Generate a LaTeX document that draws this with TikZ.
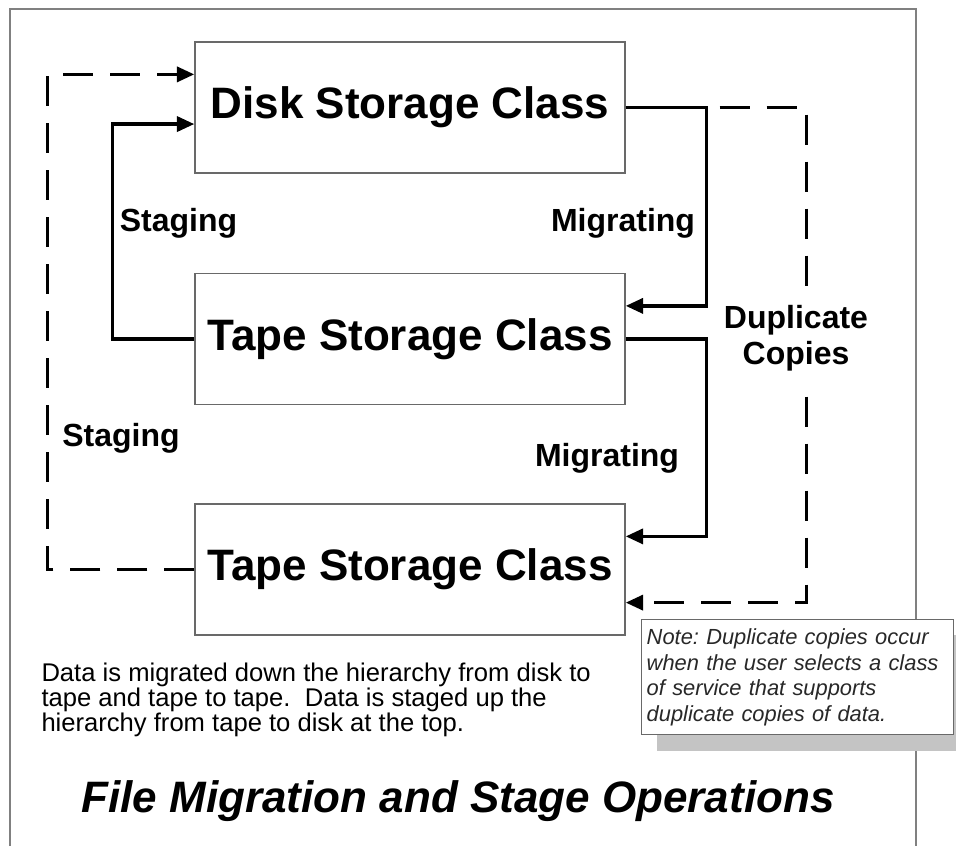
\documentclass[tikz,border=0pt]{standalone}
\usepackage{fontspec}
\setmainfont{Liberation Sans}
\usetikzlibrary{arrows.meta,calc}

\definecolor{framegray}{RGB}{128,128,128}
\definecolor{boxgray}{RGB}{105,105,105}
\definecolor{shadowgray}{RGB}{196,196,196}
\definecolor{notetext}{RGB}{40,40,40}

\tikzset{every picture/.style={line width=0.75pt}}

\begin{document}
\begin{tikzpicture}[x=0.75pt,y=0.75pt,yscale=-1,xscale=1,
  classbox/.style={draw=boxgray,line width=1.1pt,fill=white,minimum width=322.5pt,minimum height=98.25pt,inner sep=0pt,font=\fontsize{33}{38}\selectfont\bfseries},
  flow/.style={line width=2.6pt,-{Triangle[length=13pt,width=11.25pt]}},
  dupflow/.style={flow,dash pattern={on 22.5pt off 12.75pt}},
  oplabel/.style={inner sep=0pt,align=center,font=\fontsize{24}{27}\selectfont\bfseries}]
\useasboundingbox (0,0) rectangle (956,846);

%Frame
\draw [framegray,line width=1.5pt] (10,846) -- (10,9) -- (916,9) -- (916,846) ;

%Storage class boxes
\node [classbox] (disk) at (410,107.5) {Disk Storage Class};
\node [classbox] (tapeA) at (410,339) {Tape Storage Class};
\node [classbox] (tapeB) at (410,569.5) {Tape Storage Class};

%Migrating
\draw [flow] (disk.east) -- ++(81,0) |- ($(tapeA.north east)!0.25!(tapeA.south east)$) ;
\draw [flow] (tapeA.east) -- ++(81,0) |- ($(tapeB.north east)!0.25!(tapeB.south east)$) ;
%Duplicate copies
\draw [dupflow] (disk.east) -- ++(181,0) |- ($(tapeB.north east)!0.75!(tapeB.south east)$) ;
%Staging
\draw [flow] (tapeA.west) -- ++(-82,0) |- ($(disk.north west)!0.625!(disk.south west)$) ;
\draw [dupflow] (tapeB.west) -- ++(-147,0) |- ($(disk.north west)!0.25!(disk.south west)$) ;

% Text Node
\node [oplabel] (stageTop) at (178.5,223.5) {Staging};
% Text Node
\node [oplabel] (migTop) at (623,223.5) {Migrating};
% Text Node
\node [oplabel,fill=white,inner ysep=7pt] (dupLbl) at (796,338) {Duplicate\\Copies};
% Text Node
\node [oplabel] (stageLow) at (121,438.5) {Staging};
% Text Node
\node [oplabel] (migLow) at (607,458.5) {Migrating};

% Text Node
\node [anchor=north west,inner sep=0pt,align=left,font=\fontsize{19.2}{18.75}\selectfont] (summary) at (41,662) {Data is migrated down the hierarchy from disk to\\tape and tape to tape.\ \ Data is staged up the\\hierarchy from tape to disk at the top.};

%Note with shadow
\fill [shadowgray] (657,635) rectangle (956,751) ;
\node [anchor=north west,draw=boxgray,line width=1.1pt,fill=white,inner xsep=3.75pt,inner ysep=0pt,text width=226.5pt,minimum height=86.25pt,align=left,text=notetext,font=\fontsize{16.4}{19.25}\selectfont\itshape\frenchspacing] (note) at (641,619) {Note: Duplicate copies occur\\when the user selects a class\\of service that supports\\duplicate copies of data.};

% Text Node
\node [inner sep=0pt,font=\fontsize{33}{38}\selectfont\bfseries\itshape] (title) at (458,801.5) {File Migration and Stage Operations};

\end{tikzpicture}
\end{document}
